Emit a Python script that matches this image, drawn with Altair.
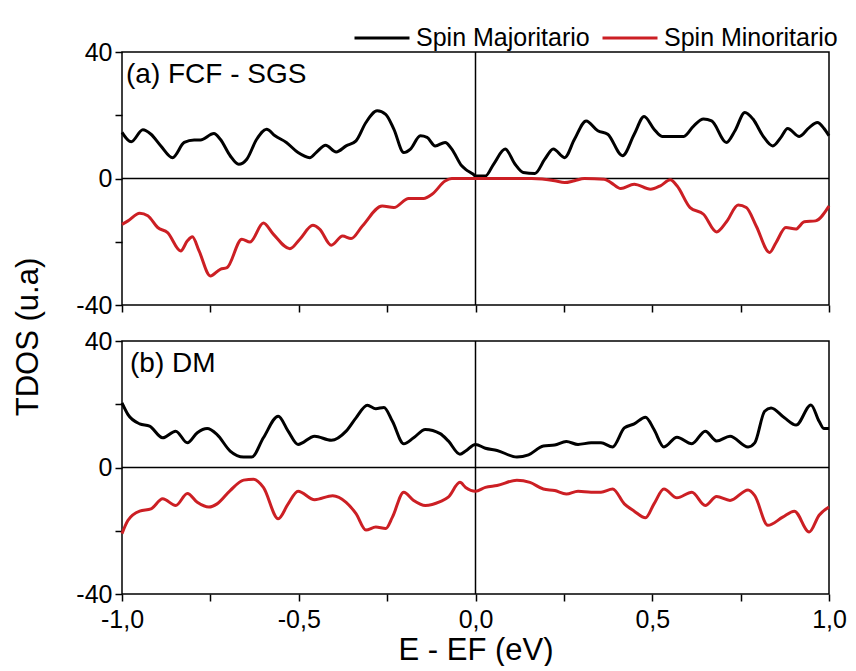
import altair as alt
import pandas as pd

FONT = "Liberation Sans"
series_names = ["Spin Majoritario", "Spin Minoritario"]
series_colors = ["#000000", "#cc1f24"]
panel_labels = ["(a) FCF - SGS", "(b) DM"]
x_title = "E - EF (eV)"
y_title = "TDOS (u.a)"
x_ticks = [-1.0, -0.75, -0.5, -0.25, 0.0, 0.25, 0.5, 0.75, 1.0]
y_ticks = [-40, -20, 0, 20, 40]
zero_line = [0]

# (a) FCF - SGS, spin majoritario
a_maj_x = [-1.0, -0.974, -0.941, -0.918, -0.890, -0.857, -0.824, -0.796, -0.778, -0.740,
           -0.722, -0.694, -0.670, -0.647, -0.619, -0.591, -0.567, -0.535, -0.502, -0.469,
           -0.451, -0.424, -0.394, -0.366, -0.338, -0.310, -0.278, -0.254, -0.231, -0.203,
           -0.184, -0.156, -0.137, -0.114, -0.086, -0.067, -0.039, -0.028, -0.007, 0.0,
           0.028, 0.051, 0.084, 0.112, 0.135, 0.168, 0.196, 0.220, 0.252, 0.280,
           0.313, 0.346, 0.374, 0.416, 0.449, 0.477, 0.505, 0.528, 0.589, 0.617,
           0.645, 0.668, 0.710, 0.734, 0.762, 0.785, 0.813, 0.841, 0.864, 0.883,
           0.916, 0.944, 0.967, 0.986, 1.0]
a_maj_y = [14.6, 11.6, 15.4, 14.0, 10.3, 6.6, 11.4, 12.2, 12.2, 14.2,
           12.4, 7.2, 4.5, 6.1, 12.4, 15.6, 13.5, 11.4, 8.2, 6.6,
           8.2, 10.5, 8.4, 10.3, 11.9, 17.7, 21.4, 20.3, 15.6, 8.2,
           9.3, 13.5, 13.0, 10.3, 11.4, 9.3, 4.0, 2.9, 1.4, 0.8,
           0.8, 4.5, 9.3, 4.5, 1.9, 1.6, 6.1, 9.3, 6.6, 12.4,
           18.2, 15.1, 14.0, 7.2, 14.0, 19.6, 15.6, 13.3, 13.3, 16.6,
           18.8, 18.2, 11.4, 15.1, 20.9, 18.8, 13.5, 10.3, 13.0, 15.8,
           13.3, 16.1, 17.7, 15.8, 13.5]

# (a) FCF - SGS, spin minoritario
a_min_x = [-1.0, -0.983, -0.950, -0.927, -0.899, -0.871, -0.834, -0.815, -0.801, -0.782,
           -0.750, -0.722, -0.703, -0.661, -0.638, -0.600, -0.572, -0.525, -0.497, -0.460,
           -0.441, -0.408, -0.376, -0.352, -0.320, -0.264, -0.231, -0.189, -0.147, -0.123,
           -0.086, -0.067, 0.0, 0.159, 0.224, 0.252, 0.280, 0.308, 0.364, 0.383,
           0.411, 0.449, 0.495, 0.523, 0.551, 0.570, 0.607, 0.645, 0.682, 0.710,
           0.743, 0.766, 0.794, 0.832, 0.850, 0.878, 0.906, 0.930, 0.962, 1.0]
a_min_y = [-14.5, -13.4, -11.0, -11.8, -15.5, -17.1, -22.9, -19.7, -18.4, -22.9,
           -30.8, -28.7, -28.2, -19.2, -20.1, -14.1, -17.6, -22.2, -19.2, -14.8,
           -16.0, -21.1, -18.2, -19.0, -15.0, -8.7, -9.2, -6.3, -6.3, -5.0,
           -0.8, 0.0, 0.0, 0.0, -0.7, -1.3, -0.7, 0.0, -0.2, -1.3,
           -3.2, -1.8, -3.4, -2.3, -0.4, -2.3, -9.2, -11.3, -16.9, -13.7,
           -8.4, -9.2, -15.0, -23.4, -20.3, -15.5, -16.0, -13.7, -13.4, -8.7]

# (b) DM, spin majoritario
b_maj_x = [-1.0, -0.983, -0.950, -0.922, -0.885, -0.848, -0.815, -0.787, -0.759, -0.731,
           -0.694, -0.656, -0.633, -0.600, -0.558, -0.530, -0.502, -0.455, -0.408, -0.366,
           -0.338, -0.306, -0.282, -0.259, -0.235, -0.203, -0.175, -0.142, -0.100, -0.077,
           -0.044, -0.028, 0.0, 0.028, 0.061, 0.117, 0.150, 0.192, 0.224, 0.257,
           0.290, 0.327, 0.355, 0.388, 0.421, 0.449, 0.481, 0.505, 0.533, 0.570,
           0.612, 0.650, 0.682, 0.720, 0.771, 0.790, 0.818, 0.836, 0.874, 0.907,
           0.949, 0.972, 0.986, 1.0]
b_maj_y = [20.4, 16.7, 13.8, 13.1, 9.4, 11.5, 7.8, 11.0, 12.3, 10.4,
           5.2, 3.3, 3.3, 9.4, 16.2, 11.5, 7.3, 9.9, 8.6, 11.5,
           15.7, 19.7, 18.6, 19.0, 14.6, 7.5, 9.4, 12.0, 10.7, 8.4,
           4.2, 5.2, 7.3, 6.1, 5.4, 3.3, 4.0, 6.8, 7.1, 8.2,
           7.3, 7.8, 7.8, 6.5, 12.5, 13.8, 15.9, 12.0, 6.5, 9.6,
           7.5, 11.5, 8.4, 9.9, 6.5, 7.8, 17.8, 18.8, 15.7, 13.4,
           19.8, 14.6, 12.3, 12.3]

# (b) DM, spin minoritario
b_min_x = [-1.0, -0.983, -0.950, -0.918, -0.885, -0.848, -0.815, -0.787, -0.754, -0.731,
           -0.694, -0.656, -0.628, -0.600, -0.558, -0.530, -0.502, -0.455, -0.404, -0.366,
           -0.338, -0.310, -0.282, -0.254, -0.235, -0.203, -0.175, -0.142, -0.100, -0.077,
           -0.044, -0.028, 0.0, 0.028, 0.061, 0.117, 0.154, 0.192, 0.224, 0.257,
           0.290, 0.327, 0.355, 0.388, 0.421, 0.449, 0.481, 0.505, 0.533, 0.570,
           0.612, 0.650, 0.682, 0.720, 0.771, 0.790, 0.827, 0.869, 0.902, 0.944,
           0.972, 1.0]
b_min_y = [-20.9, -16.7, -13.8, -13.1, -9.9, -12.0, -8.2, -11.0, -12.5, -11.5,
           -7.3, -4.0, -3.7, -6.3, -16.2, -11.5, -7.5, -10.2, -8.9, -11.0,
           -14.6, -19.8, -18.8, -19.3, -15.7, -7.8, -10.4, -12.0, -10.8, -9.4,
           -4.7, -6.3, -7.5, -6.3, -5.7, -4.0, -4.7, -6.8, -7.3, -8.4,
           -7.5, -7.8, -7.8, -6.8, -11.5, -13.8, -15.9, -11.5, -6.8, -9.6,
           -7.8, -12.0, -9.2, -10.4, -7.1, -8.9, -18.3, -15.7, -13.8, -20.4,
           -15.1, -12.5]


def series_df(maj_x, maj_y, min_x, min_y):
    d1 = pd.DataFrame({"E": maj_x, "TDOS": maj_y, "serie": series_names[0], "ord": range(len(maj_x))})
    d2 = pd.DataFrame({"E": min_x, "TDOS": min_y, "serie": series_names[1], "ord": range(len(min_x))})
    return pd.concat([d1, d2], ignore_index=True)


x_scale = alt.Scale(domain=[-1, 1], nice=False, zero=False)
y_scale = alt.Scale(domain=[-40, 40], nice=False)
color_scale = alt.Scale(domain=series_names, range=series_colors)

x_label_expr = ("abs(datum.value*2 - round(datum.value*2)) < 0.000001 ? "
                "(datum.value < -0.0001 ? '-' : '') + replace(format(abs(datum.value), '.1f'), '.', ',') : ''")
y_label_expr = ("datum.value % 40 == 0 ? (datum.value < 0 ? '-' : '') + format(abs(datum.value), 'd') : ''")

LABEL_SIZE = 25


def panel(df, label, label_dx, bottom, height):
    x_axis_kw = dict(values=x_ticks, ticks=True, tickSize=7, tickWidth=1.5, tickColor="black",
                     domain=False, grid=False, labelOverlap=False, labelFlush=False)
    if bottom:
        x_axis_kw.update(labels=True, labelExpr=x_label_expr, labelFont=FONT, labelFontSize=LABEL_SIZE,
                         labelColor="black", labelPadding=6, title=x_title, titleFont=FONT,
                         titleFontSize=31, titleFontWeight="normal", titleColor="black", titlePadding=3)
    else:
        x_axis_kw.update(labels=False, title=None)
    y_axis = alt.Axis(values=y_ticks, labelExpr=y_label_expr, ticks=True, tickSize=7, tickWidth=1.5,
                      tickColor="black", domain=False, grid=False, labelOverlap=False, labelFlush=False,
                      labelFont=FONT, labelFontSize=LABEL_SIZE, labelColor="black", labelPadding=3,
                      title=None)

    if bottom:
        legend = None
    else:
        legend = alt.Legend(orient="none", legendX=231, legendY=-43, direction="horizontal",
                            title=None, symbolType="stroke", symbolSize=3025, symbolStrokeWidth=3,
                            labelFont=FONT, labelFontSize=25, labelColor="black", labelOffset=5,
                            labelLimit=0, columnPadding=6, padding=0)

    zero_df = pd.DataFrame({"v": zero_line})
    hrule = alt.Chart(zero_df).mark_rule(color="black", strokeWidth=1.5).encode(
        y=alt.Y("v:Q", scale=y_scale, axis=y_axis))
    vrule = alt.Chart(zero_df).mark_rule(color="black", strokeWidth=1.5).encode(
        x=alt.X("v:Q", scale=x_scale, axis=alt.Axis(**x_axis_kw)))
    lines = alt.Chart(df).mark_line(strokeWidth=3, interpolate="monotone", strokeJoin="round").encode(
        x=alt.X("E:Q", scale=x_scale, axis=alt.Axis(**x_axis_kw)),
        y=alt.Y("TDOS:Q", scale=y_scale, axis=y_axis),
        color=alt.Color("serie:N", scale=color_scale, legend=legend),
        order="ord:Q",
    )
    text = alt.Chart(pd.DataFrame({"t": [label]})).mark_text(
        align="left", baseline="top", font=FONT, fontSize=28, color="black"
    ).encode(x=alt.value(label_dx), y=alt.value(9), text="t:N")
    return alt.layer(hrule, vrule, lines, text).properties(width=707, height=height)


top = panel(series_df(a_maj_x, a_maj_y, a_min_x, a_min_y), panel_labels[0], 4, False, 253)
bottom = panel(series_df(b_maj_x, b_maj_y, b_min_x, b_min_y), panel_labels[1], 8, True, 253)

chart = alt.vconcat(top, bottom, spacing=9).resolve_legend(color="independent").properties(
    title=alt.TitleParams(y_title, orient="left", anchor="middle", font=FONT, fontSize=31,
                          fontWeight="normal", color="black", offset=30),
    padding={"left": 5, "top": 0, "right": 0, "bottom": 0},
).configure_view(stroke="black", strokeWidth=1.5)

chart.save("out.html", embed_options={"renderer": "svg", "actions": False})
